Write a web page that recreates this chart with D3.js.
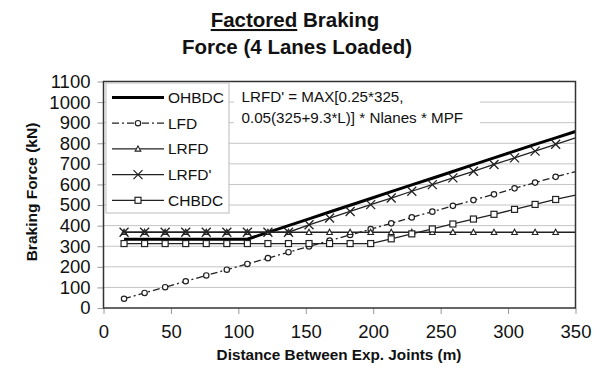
<!DOCTYPE html>
<html lang="en">
<head>
<meta charset="UTF-8" />
<title>Factored Braking Force</title>
<style>
  body { margin: 0; background: #fff; }
  svg text { font-family: "Liberation Sans", Arial, sans-serif; fill: #111; }
</style>
</head>
<body>
<div class="chart"></div>
<script src="https://d3js.org/d3.v7.min.js"></script>
<script>
// span between expansion joints (m); the last entry is where the lines meet the plot edge (no marker there)
const distance = [15.24, 30.48, 45.72, 60.96, 76.2, 91.44, 106.68, 121.92, 137.16, 152.4, 167.64,
                  182.88, 198.12, 213.36, 228.6, 243.84, 259.08, 274.32, 289.56, 304.8, 320.04, 335.28, 350]

const ohbdc = [334, 334, 334, 334, 334, 334, 334, 367, 400, 433, 466, 499, 532, 565, 598, 630,
               663, 696, 729, 762, 795, 826, 857]
const lfd = [45, 73, 101, 130, 158, 186, 214, 242, 271, 299, 327, 355, 383, 411, 440, 468,
             496, 524, 552, 581, 609, 637, 662]
const lrfd = [368, 368, 368, 368, 368, 368, 368, 368, 368, 368, 368, 368, 368, 368, 368, 368,
              368, 368, 368, 368, 368, 368, 368]
const lrfdPrime = [368, 368, 368, 368, 368, 368, 368, 368, 368, 404, 437, 469, 502, 534, 567, 599,
                   632, 664, 697, 729, 762, 795, 826]
const chbdc = [313, 313, 313, 313, 313, 313, 313, 313, 313, 313, 313, 313, 313, 336, 360, 384,
               408, 432, 455, 479, 503, 527, 548]

const seriesNames = ['OHBDC', 'LFD', 'LRFD', "LRFD'", 'CHBDC']
const xTicks = [0, 50, 100, 150, 200, 250, 300, 350]
const yTicks = [0, 100, 200, 300, 400, 500, 600, 700, 800, 900, 1000, 1100]

const W = 605, H = 370
const svg = d3.select('.chart').append('svg').attr('width', W).attr('height', H)

const xScale = d3.scaleLinear().domain([0, 350]).range([103.5, 575.5])
const yScale = d3.scaleLinear().domain([0, 1100]).range([308, 81.5])

// title
const title = svg.append('text')
  .attr('x', 295).attr('y', 27)
  .attr('text-anchor', 'middle')
  .style('font-size', '20.5px').style('font-weight', 'bold')
title.append('tspan').style('text-decoration', 'underline').text('Factored')
title.append('tspan').text(' Braking')
svg.append('text')
  .attr('x', 297).attr('y', 54)
  .attr('text-anchor', 'middle')
  .style('font-size', '20.5px').style('font-weight', 'bold')
  .text('Force (4 Lanes Loaded)')

// gridlines
svg.append('g').selectAll('line')
  .data(yTicks.filter(d => d > 0 && d < 1100))
  .join('line')
  .attr('x1', xScale(0)).attr('x2', xScale(350))
  .attr('y1', d => yScale(d)).attr('y2', d => yScale(d))
  .attr('stroke', '#c4c4c4').attr('stroke-width', 1)

// axes
const xAxis = d3.axisBottom(xScale).tickValues(xTicks).tickFormat(d3.format('d')).tickSize(6).tickPadding(8)
const gx = svg.append('g').attr('transform', `translate(0,${yScale(0)})`).call(xAxis)
gx.select('.domain').remove()
gx.selectAll('line').attr('stroke', '#999')
gx.selectAll('text').style('font-size', '18.5px').attr('dy', '0.85em')

const yAxis = d3.axisLeft(yScale).tickValues(yTicks).tickFormat(d3.format('d')).tickSize(6).tickPadding(7)
const gy = svg.append('g').attr('transform', `translate(${xScale(0)},0)`).call(yAxis)
gy.select('.domain').remove()
gy.selectAll('line').attr('stroke', '#999')
gy.selectAll('text').style('font-size', '18.5px')

// axis titles
svg.append('text')
  .attr('x', 339).attr('y', 360)
  .attr('text-anchor', 'middle')
  .style('font-size', '15.3px').style('font-weight', 'bold')
  .text('Distance Between Exp. Joints (m)')
svg.append('text')
  .attr('transform', 'translate(37,192) rotate(-90)')
  .attr('text-anchor', 'middle')
  .style('font-size', '15.5px').style('font-weight', 'bold')
  .text('Braking Force (kN)')

// series
const allValues = [ohbdc, lfd, lrfd, lrfdPrime, chbdc]
const styles = [
  { width: 3, dash: null, marker: null },
  { width: 1.3, dash: '7,3,2,3', marker: 'circle' },
  { width: 1.3, dash: null, marker: 'triangle' },
  { width: 1.3, dash: null, marker: 'x' },
  { width: 1.3, dash: null, marker: 'square' }
]

svg.append('clipPath').attr('id', 'plotClip')
  .append('rect')
  .attr('x', xScale(0)).attr('y', yScale(1100))
  .attr('width', xScale(350) - xScale(0)).attr('height', yScale(0) - yScale(1100))

const plot = svg.append('g').attr('clip-path', 'url(#plotClip)')

const line = d3.line()
  .x((d, i) => xScale(distance[i]))
  .y(d => yScale(d))

function drawMarker(g, type, cx, cy) {
  if (type === 'circle') {
    g.append('circle').attr('cx', cx).attr('cy', cy).attr('r', 2.7)
      .attr('fill', '#fff').attr('stroke', '#222').attr('stroke-width', 1.2)
  } else if (type === 'triangle') {
    g.append('path')
      .attr('d', `M${cx},${cy - 3}L${cx + 2.8},${cy + 2.2}L${cx - 2.8},${cy + 2.2}Z`)
      .attr('fill', '#fff').attr('stroke', '#222').attr('stroke-width', 1.1)
  } else if (type === 'x') {
    g.append('path')
      .attr('d', `M${cx - 4.5},${cy - 4.5}L${cx + 4.5},${cy + 4.5}M${cx + 4.5},${cy - 4.5}L${cx - 4.5},${cy + 4.5}`)
      .attr('stroke', '#222').attr('stroke-width', 1.3).attr('fill', 'none')
  } else if (type === 'square') {
    g.append('rect').attr('x', cx - 3).attr('y', cy - 3).attr('width', 6).attr('height', 6)
      .attr('fill', '#fff').attr('stroke', '#222').attr('stroke-width', 1.2)
  }
}

allValues.forEach((vals, s) => {
  const st = styles[s]
  const g = plot.append('g')
  g.append('path')
    .attr('d', line(vals))
    .attr('fill', 'none')
    .attr('stroke', s === 0 ? '#000' : '#222')
    .attr('stroke-width', st.width)
    .attr('stroke-dasharray', st.dash)
  if (st.marker) {
    vals.slice(0, 22).forEach((v, i) => drawMarker(g, st.marker, xScale(distance[i]), yScale(v)))
  }
})

// plot border
svg.append('rect')
  .attr('x', xScale(0)).attr('y', yScale(1100))
  .attr('width', xScale(350) - xScale(0)).attr('height', yScale(0) - yScale(1100))
  .attr('fill', 'none').attr('stroke', '#333').attr('stroke-width', 1.5)

// legend
const legend = svg.append('g')
legend.append('rect')
  .attr('x', 106).attr('y', 83).attr('width', 123).attr('height', 130)
  .attr('fill', '#fff').attr('stroke', '#bbb').attr('stroke-width', 1)
seriesNames.forEach((name, s) => {
  const ly = 97.5 + s * 25.7
  const st = styles[s]
  legend.append('line')
    .attr('x1', 112).attr('x2', 164).attr('y1', ly).attr('y2', ly)
    .attr('stroke', s === 0 ? '#000' : '#222')
    .attr('stroke-width', st.width)
    .attr('stroke-dasharray', st.dash)
  if (st.marker) drawMarker(legend, st.marker, 138, ly)
  legend.append('text')
    .attr('x', 168).attr('y', ly).attr('dy', '0.36em')
    .style('font-size', '15.5px')
    .text(name)
})

// formula note
svg.append('rect')
  .attr('x', 234).attr('y', 85).attr('width', 246).attr('height', 44)
  .attr('fill', '#fff')
svg.append('text')
  .attr('x', 241.5).attr('y', 97).attr('dy', '0.36em')
  .style('font-size', '15.2px')
  .text("LRFD' = MAX[0.25*325,")
svg.append('text')
  .attr('x', 241.5).attr('y', 117.5).attr('dy', '0.36em')
  .style('font-size', '15.2px')
  .text('0.05(325+9.3*L)] * Nlanes * MPF')
</script>
</body>
</html>
